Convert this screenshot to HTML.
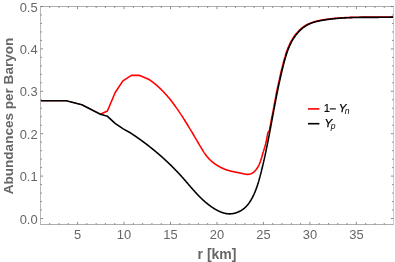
<!DOCTYPE html>
<html><head><meta charset="utf-8"><style>
html,body{margin:0;padding:0;background:#fff;}
svg{display:block;will-change:transform;font-family:"Liberation Sans",sans-serif;}
</style></head><body>
<svg width="395" height="262" viewBox="0 0 395 262">
<rect width="395" height="262" fill="#fff"/>
<path d="M40.5 100.8 L66.30 100.80 L81.90 104.80 L100.40 114.20" fill="none" stroke="#ff0000" stroke-width="1.0" stroke-linejoin="round"/>
<path d="M100.4 114.2 L107.40 111.00 L115.20 92.50 L122.90 80.90 L131.40 75.40 L139.10 75.20 L148.60 79.20 L148.85 79.37 L149.10 79.54 L149.35 79.70 L149.60 79.87 L149.85 80.05 L150.10 80.22 L150.35 80.39 L150.60 80.56 L150.84 80.74 L151.09 80.91 L151.33 81.09 L151.57 81.27 L151.82 81.44 L152.06 81.62 L152.30 81.80 L152.54 81.98 L152.78 82.17 L153.02 82.35 L153.26 82.53 L153.50 82.71 L153.73 82.90 L153.97 83.08 L154.20 83.27 L154.44 83.46 L154.67 83.65 L154.90 83.84 L155.14 84.03 L155.37 84.22 L155.60 84.41 L155.83 84.60 L156.06 84.79 L156.29 84.98 L156.52 85.18 L156.74 85.37 L156.97 85.57 L157.20 85.77 L157.42 85.96 L157.64 86.16 L157.87 86.36 L158.09 86.56 L158.31 86.76 L158.54 86.96 L158.76 87.16 L158.98 87.37 L159.20 87.57 L159.42 87.77 L159.63 87.98 L159.85 88.18 L160.07 88.39 L160.29 88.60 L160.50 88.80 L160.72 89.01 L160.93 89.22 L161.15 89.43 L161.36 89.64 L161.57 89.85 L161.78 90.06 L162.00 90.27 L162.21 90.49 L162.42 90.70 L162.63 90.91 L162.83 91.13 L163.04 91.34 L163.25 91.56 L163.46 91.77 L163.66 91.99 L163.87 92.21 L164.08 92.43 L164.28 92.64 L164.48 92.86 L164.69 93.08 L164.89 93.30 L165.09 93.53 L165.30 93.75 L165.50 93.97 L165.70 94.19 L165.90 94.42 L166.10 94.64 L166.30 94.86 L166.49 95.09 L166.69 95.31 L166.89 95.54 L167.09 95.77 L167.28 95.99 L167.48 96.22 L167.67 96.45 L167.87 96.68 L168.06 96.91 L168.26 97.14 L168.45 97.37 L168.64 97.60 L168.84 97.83 L169.03 98.06 L169.22 98.29 L169.41 98.52 L169.60 98.75 L169.79 98.99 L169.98 99.22 L170.17 99.46 L170.35 99.69 L170.54 99.93 L170.73 100.16 L170.92 100.40 L171.10 100.63 L171.29 100.87 L171.47 101.11 L171.66 101.34 L171.84 101.58 L172.03 101.82 L172.21 102.06 L172.39 102.30 L172.58 102.54 L172.76 102.78 L172.94 103.02 L173.12 103.26 L173.30 103.50 L173.48 103.74 L173.66 103.98 L173.84 104.22 L174.02 104.47 L174.20 104.71 L174.38 104.95 L174.56 105.19 L174.74 105.44 L174.91 105.68 L175.09 105.93 L175.27 106.17 L175.44 106.42 L175.62 106.66 L175.79 106.91 L175.97 107.15 L176.14 107.40 L176.32 107.64 L176.49 107.89 L176.66 108.14 L176.84 108.38 L177.01 108.63 L177.18 108.88 L177.35 109.13 L177.53 109.38 L177.70 109.62 L177.87 109.87 L178.04 110.12 L178.21 110.37 L178.38 110.62 L178.55 110.87 L178.72 111.12 L178.89 111.37 L179.06 111.62 L179.22 111.87 L179.39 112.12 L179.56 112.37 L179.73 112.62 L179.89 112.87 L180.06 113.12 L180.23 113.37 L180.39 113.62 L180.56 113.87 L180.73 114.13 L180.89 114.38 L181.06 114.63 L181.22 114.88 L181.39 115.13 L181.55 115.39 L181.71 115.64 L181.88 115.89 L182.04 116.14 L182.21 116.40 L182.37 116.65 L182.53 116.90 L182.69 117.16 L182.86 117.41 L183.02 117.66 L183.18 117.92 L183.34 118.17 L183.50 118.42 L183.66 118.68 L183.82 118.93 L183.99 119.18 L184.15 119.44 L184.31 119.69 L184.47 119.94 L184.63 120.20 L184.79 120.45 L184.94 120.70 L185.10 120.96 L185.26 121.21 L185.42 121.47 L185.58 121.72 L185.74 121.98 L185.90 122.23 L186.06 122.48 L186.21 122.74 L186.37 122.99 L186.53 123.25 L186.69 123.50 L186.84 123.76 L187.00 124.01 L187.16 124.27 L187.31 124.52 L187.47 124.78 L187.63 125.03 L187.78 125.29 L187.94 125.54 L188.10 125.80 L188.25 126.05 L188.41 126.31 L188.56 126.56 L188.72 126.82 L188.87 127.07 L189.03 127.33 L189.18 127.58 L189.34 127.84 L189.49 128.10 L189.65 128.35 L189.80 128.61 L189.96 128.86 L190.11 129.12 L190.27 129.38 L190.42 129.63 L190.58 129.89 L190.73 130.14 L190.88 130.40 L191.04 130.66 L191.19 130.91 L191.35 131.17 L191.50 131.43 L191.65 131.68 L191.81 131.94 L191.96 132.20 L192.11 132.45 L192.27 132.71 L192.42 132.97 L192.57 133.22 L192.73 133.48 L192.88 133.74 L193.03 134.00 L193.18 134.25 L193.34 134.51 L193.49 134.77 L193.64 135.02 L193.80 135.28 L193.95 135.54 L194.10 135.80 L194.25 136.05 L194.41 136.31 L194.56 136.57 L194.71 136.83 L194.86 137.09 L195.02 137.34 L195.17 137.60 L195.32 137.86 L195.48 138.12 L195.63 138.38 L195.78 138.63 L195.93 138.89 L196.09 139.15 L196.24 139.41 L196.39 139.67 L196.54 139.93 L196.70 140.18 L196.85 140.44 L197.00 140.70 L197.16 140.96 L197.31 141.22 L197.46 141.48 L197.61 141.74 L197.77 142.00 L197.92 142.25 L198.07 142.51 L198.23 142.77 L198.38 143.03 L198.53 143.29 L198.69 143.55 L198.84 143.81 L198.99 144.07 L199.15 144.33 L199.30 144.59 L199.45 144.85 L199.61 145.11 L199.76 145.37 L199.91 145.63 L200.07 145.89 L200.22 146.15 L200.38 146.41 L200.53 146.67 L200.69 146.93 L200.84 147.19 L200.99 147.45 L201.15 147.71 L201.30 147.97 L201.46 148.23 L201.61 148.49 L201.77 148.75 L201.92 149.01 L202.08 149.27 L202.24 149.53 L202.39 149.79 L202.55 150.05 L202.71 150.31 L202.86 150.56 L203.02 150.82 L203.18 151.08 L203.34 151.34 L203.50 151.59 L203.66 151.85 L203.83 152.10 L203.99 152.36 L204.16 152.61 L204.32 152.86 L204.49 153.11 L204.66 153.36 L204.83 153.61 L205.00 153.86 L205.17 154.10 L205.35 154.34 L205.52 154.59 L205.70 154.83 L205.88 155.07 L206.06 155.31 L206.24 155.54 L206.43 155.78 L206.61 156.01 L206.80 156.24 L206.99 156.48 L207.18 156.70 L207.37 156.93 L207.56 157.16 L207.75 157.38 L207.95 157.61 L208.15 157.83 L208.35 158.05 L208.55 158.27 L208.75 158.49 L208.95 158.70 L209.16 158.92 L209.36 159.13 L209.57 159.34 L209.78 159.56 L209.99 159.76 L210.21 159.97 L210.42 160.18 L210.64 160.38 L210.86 160.58 L211.08 160.79 L211.30 160.99 L211.52 161.18 L211.74 161.38 L211.97 161.58 L212.20 161.77 L212.43 161.96 L212.66 162.15 L212.89 162.34 L213.12 162.53 L213.36 162.72 L213.59 162.90 L213.83 163.09 L214.07 163.27 L214.32 163.45 L214.56 163.63 L214.80 163.81 L215.05 163.98 L215.30 164.16 L215.55 164.33 L215.80 164.50 L216.05 164.67 L216.31 164.84 L216.56 165.00 L216.82 165.17 L217.08 165.33 L217.34 165.49 L217.60 165.65 L217.86 165.81 L218.12 165.96 L218.38 166.12 L218.65 166.27 L218.92 166.42 L219.18 166.57 L219.45 166.72 L219.72 166.86 L219.99 167.01 L220.26 167.15 L220.53 167.29 L220.81 167.43 L221.08 167.57 L221.35 167.70 L221.63 167.83 L221.90 167.96 L222.18 168.09 L222.45 168.22 L222.73 168.34 L223.01 168.47 L223.29 168.59 L223.57 168.71 L223.84 168.82 L224.12 168.94 L224.40 169.05 L224.68 169.16 L224.96 169.27 L225.24 169.38 L225.52 169.48 L225.80 169.59 L226.08 169.69 L226.36 169.79 L226.64 169.88 L226.93 169.98 L227.21 170.07 L227.49 170.16 L227.77 170.25 L228.05 170.33 L228.33 170.42 L228.61 170.50 L228.89 170.58 L229.17 170.66 L229.46 170.74 L229.74 170.82 L230.02 170.89 L230.30 170.97 L230.58 171.04 L230.87 171.11 L231.15 171.18 L231.43 171.25 L231.72 171.31 L232.00 171.38 L232.29 171.45 L232.57 171.51 L232.86 171.58 L233.14 171.64 L233.43 171.70 L233.72 171.76 L234.01 171.82 L234.29 171.88 L234.58 171.94 L234.87 172.00 L235.16 172.06 L235.45 172.12 L235.74 172.18 L236.04 172.24 L236.33 172.30 L236.62 172.35 L236.92 172.41 L237.21 172.47 L237.51 172.53 L237.80 172.59 L238.10 172.64 L238.40 172.70 L238.70 172.76 L238.99 172.82 L239.29 172.88 L239.60 172.94 L239.90 173.00 L240.20 173.06 L240.51 173.13 L240.81 173.19 L241.12 173.25 L241.42 173.32 L241.73 173.38 L242.04 173.45 L242.35 173.52 L242.66 173.59 L242.98 173.66 L243.29 173.73 L243.60 173.80 L243.92 173.86 L244.23 173.93 L244.55 174.00 L244.86 174.06 L245.17 174.12 L245.48 174.17 L245.80 174.22 L246.11 174.27 L246.41 174.30 L246.72 174.34 L247.02 174.36 L247.33 174.38 L247.63 174.38 L247.92 174.38 L248.22 174.37 L248.51 174.35 L248.79 174.32 L249.08 174.28 L249.36 174.23 L249.64 174.17 L249.91 174.10 L250.18 174.02 L250.45 173.94 L250.72 173.85 L250.98 173.74 L251.24 173.63 L251.49 173.51 L251.75 173.39 L252.00 173.26 L252.24 173.12 L252.49 172.97 L252.73 172.81 L252.96 172.65 L253.20 172.48 L253.43 172.31 L253.65 172.13 L253.88 171.94 L254.10 171.75 L254.32 171.55 L254.53 171.35 L254.75 171.14 L254.95 170.93 L255.16 170.71 L255.36 170.49 L255.56 170.26 L255.76 170.03 L255.95 169.80 L256.14 169.56 L256.33 169.32 L256.51 169.07 L256.69 168.82 L256.87 168.57 L257.04 168.31 L257.21 168.05 L257.38 167.79 L257.54 167.53 L257.70 167.27 L257.86 167.00 L258.02 166.73 L258.17 166.46 L258.32 166.19 L258.46 165.92 L258.60 165.64 L258.74 165.37 L258.88 165.09 L259.01 164.81 L259.14 164.54 L259.27 164.26 L259.39 163.98 L259.51 163.70 L259.63 163.42 L259.75 163.14 L259.86 162.86 L259.97 162.58 L260.08 162.30 L260.19 162.02 L260.29 161.74 L260.39 161.45 L260.49 161.17 L260.59 160.88 L260.69 160.60 L260.79 160.32 L260.88 160.03 L260.97 159.75 L261.06 159.46 L261.15 159.17 L261.24 158.89 L261.33 158.60 L261.41 158.32 L261.50 158.03 L261.58 157.74 L261.67 157.46 L261.75 157.17 L261.83 156.88 L261.91 156.60 L261.99 156.31 L262.07 156.02 L262.15 155.74 L262.23 155.45 L262.31 155.16 L262.39 154.88 L262.47 154.59 L262.55 154.30 L262.63 154.02 L262.71 153.73 L262.79 153.45 L262.87 153.16 L262.95 152.87 L263.03 152.59 L263.11 152.31 L263.20 152.02 L263.28 151.74 L263.36 151.45 L263.45 151.17 L263.53 150.89 L263.62 150.60 L263.71 150.32 L263.79 150.04 L263.88 149.76 L263.97 149.47 L264.05 149.19 L264.14 148.90 L264.23 148.62 L264.31 148.34 L264.40 148.05 L264.49 147.77 L264.57 147.48 L264.66 147.20 L264.74 146.91 L264.83 146.62 L264.91 146.33 L265.00 146.05 L265.08 145.76 L265.16 145.47 L265.25 145.18 L265.33 144.89 L265.41 144.59 L265.49 144.30 L265.57 144.00 L265.64 143.71 L265.72 143.41 L265.80 143.11 L265.87 142.82 L265.94 142.51 L266.01 142.21 L266.08 141.91 L266.15 141.60 L266.22 141.30 L266.28 140.99 L266.35 140.68 L266.41 140.37 L266.47 140.06 L266.53 139.74 L266.58 139.43 L266.64 139.11 L266.69 138.79 L266.75 138.48 L266.80 138.16 L266.85 137.84 L266.90 137.53 L266.95 137.21 L267.01 136.90 L267.06 136.59 L267.11 136.28 L267.17 135.97 L267.23 135.67 L267.28 135.37 L267.34 135.07 L267.41 134.78 L267.47 134.50 L267.54 134.22 L267.61 133.95 L267.68 133.68 L267.76 133.42 L267.84 133.16 L267.92 132.91 L268.01 132.67 L268.11 132.44 L268.20 132.22 L268.31 132.01 L268.42 131.80 L268.53 131.61 L268.65 131.42 L268.78 131.25 L268.90 131.08 L269.02 130.90 L269.14 130.70 L269.24 130.49 L269.33 130.26 L269.42 130.02 L269.49 129.77 L269.57 129.51 L269.63 129.24 L269.69 128.97 L269.75 128.68 L269.80 128.39 L269.85 128.10 L269.90 127.80 L269.95 127.49 L270.00 127.19 L270.05 126.89 L270.10 126.59 L270.15 126.29 L270.20 125.99 L270.25 125.69 L270.31 125.39 L270.36 125.09 L270.42 124.80 L270.47 124.50 L270.53 124.21 L270.59 123.91 L270.64 123.62 L270.70 123.32 L270.75 123.03 L270.81 122.73 L270.87 122.44 L270.92 122.14 L270.98 121.85 L271.03 121.55 L271.09 121.26 L271.15 120.96 L271.20 120.67 L271.26 120.37 L271.31 120.08 L271.37 119.78 L271.42 119.49 L271.48 119.19 L271.53 118.90 L271.59 118.60 L271.64 118.30 L271.70 118.01 L271.76 117.71 L271.81 117.42 L271.87 117.12 L271.92 116.83 L271.98 116.53 L272.03 116.24 L272.09 115.94 L272.14 115.65 L272.20 115.35 L272.25 115.06 L272.31 114.76 L272.36 114.47 L272.42 114.17 L272.47 113.88 L272.53 113.58 L272.58 113.29 L272.64 112.99 L272.69 112.69 L272.75 112.40 L272.80 112.10 L272.86 111.81 L272.92 111.51 L272.97 111.22 L273.03 110.92 L273.08 110.63 L273.14 110.33 L273.19 110.04 L273.25 109.74 L273.30 109.45 L273.36 109.15 L273.41 108.86 L273.47 108.56 L273.52 108.27 L273.58 107.97 L273.63 107.68 L273.69 107.38 L273.74 107.09 L273.80 106.79 L273.86 106.49 L273.91 106.20 L273.97 105.90 L274.02 105.61 L274.08 105.31 L274.13 105.02 L274.19 104.72 L274.25 104.43 L274.30 104.13 L274.36 103.84 L274.41 103.54 L274.47 103.25 L274.53 102.95 L274.58 102.66 L274.64 102.36 L274.69 102.07 L274.75 101.77 L274.81 101.48 L274.86 101.18 L274.92 100.89 L274.98 100.59 L275.03 100.30 L275.09 100.00 L275.15 99.71 L275.20 99.41 L275.26 99.12 L275.32 98.82 L275.37 98.53 L275.43 98.23 L275.49 97.94 L275.55 97.64 L275.60 97.35 L275.66 97.06 L275.72 96.76 L275.78 96.47 L275.83 96.17 L275.89 95.88 L275.95 95.58 L276.01 95.29 L276.06 94.99 L276.12 94.70 L276.18 94.40 L276.24 94.11 L276.30 93.81 L276.36 93.52 L276.41 93.23 L276.47 92.93 L276.53 92.64 L276.59 92.34 L276.65 92.05 L276.71 91.75 L276.77 91.46 L276.83 91.16 L276.89 90.87 L276.95 90.58 L277.01 90.28 L277.07 89.99 L277.13 89.69 L277.19 89.40 L277.25 89.10 L277.31 88.81 L277.37 88.52 L277.43 88.22 L277.49 87.93 L277.55 87.63 L277.61 87.34 L277.67 87.05 L277.73 86.75 L277.79 86.46 L277.86 86.16 L277.92 85.87 L277.98 85.58 L278.04 85.28 L278.10 84.99 L278.16 84.70 L278.23 84.40 L278.29 84.11 L278.35 83.81 L278.41 83.52 L278.48 83.23 L278.54 82.93 L278.60 82.64 L278.67 82.35 L278.73 82.05 L278.79 81.76 L278.86 81.47 L278.92 81.17 L278.99 80.88 L279.05 80.59 L279.11 80.29 L279.18 80.00 L279.24 79.71 L279.31 79.41 L279.37 79.12 L279.44 78.83 L279.51 78.53 L279.57 78.24 L279.64 77.95 L279.70 77.66 L279.77 77.36 L279.84 77.07 L279.90 76.78 L279.97 76.48 L280.04 76.19 L280.10 75.90 L280.17 75.61 L280.24 75.31 L280.31 75.02 L280.37 74.73 L280.44 74.44 L280.51 74.14 L280.58 73.85 L280.65 73.56 L280.72 73.27 L280.78 72.98 L280.85 72.68 L280.92 72.39 L280.99 72.10 L281.06 71.81 L281.13 71.51 L281.20 71.22 L281.27 70.93 L281.34 70.64 L281.42 70.35 L281.49 70.06 L281.56 69.76 L281.63 69.47 L281.70 69.18 L281.77 68.89 L281.85 68.60 L281.92 68.31 L281.99 68.01 L282.06 67.72 L282.14 67.43 L282.21 67.14 L282.29 66.85 L282.36 66.56 L282.43 66.27 L282.51 65.98 L282.58 65.68 L282.66 65.39 L282.73 65.10 L282.81 64.81 L282.88 64.52 L282.96 64.23 L283.04 63.94 L283.11 63.65 L283.19 63.36 L283.27 63.07 L283.34 62.78 L283.42 62.49 L283.50 62.20 L283.58 61.91 L283.65 61.62 L283.73 61.33 L283.81 61.03 L283.89 60.74 L283.97 60.45 L284.05 60.16 L284.13 59.87 L284.21 59.58 L284.29 59.30 L284.37 59.01 L284.45 58.72 L284.53 58.43 L284.61 58.14 L284.70 57.85 L284.78 57.56 L284.86 57.27 L284.95 56.98 L285.03 56.69 L285.12 56.40 L285.20 56.12 L285.29 55.83 L285.37 55.54 L285.46 55.25 L285.55 54.97 L285.64 54.68 L285.73 54.39 L285.82 54.11 L285.91 53.82 L286.00 53.53 L286.09 53.25 L286.19 52.96 L286.28 52.68 L286.37 52.39 L286.47 52.11 L286.57 51.82 L286.66 51.54 L286.76 51.26 L286.86 50.97 L286.96 50.69 L287.06 50.41 L287.17 50.13 L287.27 49.85 L287.37 49.56 L287.48 49.28 L287.58 49.00 L287.69 48.72 L287.80 48.45 L287.91 48.17 L288.02 47.89 L288.13 47.61 L288.25 47.33 L288.36 47.06 L288.48 46.78 L288.59 46.50 L288.71 46.23 L288.83 45.95 L288.95 45.68 L289.08 45.41 L289.20 45.13 L289.33 44.86 L289.45 44.59 L289.58 44.32 L289.71 44.05 L289.84 43.78 L289.97 43.51 L290.11 43.24 L290.24 42.97 L290.38 42.70 L290.52 42.44 L290.65 42.17 L290.80 41.90 L290.94 41.64 L291.08 41.38 L291.23 41.11 L291.37 40.85 L291.52 40.59 L291.67 40.33 L291.82 40.07 L291.98 39.81 L292.13 39.55 L292.28 39.29 L292.44 39.04 L292.60 38.78 L292.76 38.53 L292.92 38.28 L293.08 38.02 L293.25 37.77 L293.41 37.52 L293.58 37.27 L293.75 37.02 L293.92 36.77 L294.09 36.53 L294.27 36.28 L294.44 36.04 L294.62 35.80 L294.80 35.55 L294.98 35.31 L295.16 35.07 L295.34 34.83 L295.52 34.60 L295.71 34.36 L295.90 34.12 L296.08 33.89 L296.28 33.66 L296.47 33.43 L296.66 33.20 L296.86 32.97 L297.05 32.74 L297.25 32.51 L297.45 32.29 L297.65 32.06 L297.85 31.84 L298.06 31.62 L298.26 31.40 L298.47 31.18 L298.68 30.96 L298.89 30.75 L299.10 30.54 L299.31 30.32 L299.53 30.11 L299.75 29.90 L299.96 29.69 L300.18 29.49 L300.41 29.28 L300.63 29.08 L300.85 28.88 L301.08 28.68 L301.31 28.49 L301.54 28.29 L301.77 28.10 L302.00 27.91 L302.24 27.72 L302.47 27.53 L302.71 27.35 L302.95 27.17 L303.19 26.99 L303.43 26.81 L303.68 26.64 L303.92 26.47 L304.17 26.30 L304.42 26.13 L304.67 25.97 L304.92 25.80 L305.17 25.64 L305.43 25.49 L305.69 25.34 L305.95 25.19 L306.21 25.04 L306.47 24.89 L306.73 24.75 L307.00 24.61 L307.26 24.48 L307.53 24.34 L307.80 24.21 L308.07 24.08 L308.35 23.96 L308.62 23.84 L308.89 23.71 L309.17 23.60 L309.45 23.48 L309.72 23.37 L310.00 23.26 L310.28 23.15 L310.56 23.04 L310.84 22.93 L311.13 22.83 L311.41 22.73 L311.69 22.63 L311.98 22.53 L312.26 22.44 L312.55 22.34 L312.83 22.25 L313.12 22.16 L313.41 22.07 L313.69 21.98 L313.98 21.89 L314.27 21.81 L314.56 21.72 L314.85 21.64 L315.13 21.56 L315.42 21.48 L315.71 21.40 L316.00 21.33 L316.29 21.25 L316.58 21.18 L316.88 21.10 L317.17 21.03 L317.46 20.96 L317.75 20.89 L318.04 20.83 L318.34 20.76 L318.63 20.69 L318.92 20.63 L319.21 20.57 L319.51 20.51 L319.80 20.44 L320.10 20.38 L320.39 20.33 L320.69 20.27 L320.98 20.21 L321.28 20.16 L321.57 20.10 L321.87 20.05 L322.16 20.00 L322.46 19.94 L322.75 19.89 L323.05 19.84 L323.35 19.79 L323.64 19.75 L323.94 19.70 L324.24 19.65 L324.53 19.61 L324.83 19.56 L325.13 19.52 L325.43 19.47 L325.72 19.43 L326.02 19.39 L326.32 19.35 L326.62 19.31 L326.92 19.27 L327.21 19.23 L327.51 19.19 L327.81 19.15 L328.11 19.11 L328.41 19.07 L328.71 19.04 L329.00 19.00 L329.30 18.97 L329.60 18.93 L329.90 18.89 L330.20 18.86 L330.50 18.83 L330.80 18.79 L331.09 18.76 L331.39 18.73 L331.69 18.69 L331.99 18.66 L332.29 18.63 L332.59 18.60 L332.89 18.57 L333.19 18.54 L333.49 18.51 L333.78 18.48 L334.08 18.45 L334.38 18.42 L334.68 18.39 L334.98 18.37 L335.28 18.34 L335.58 18.31 L335.88 18.29 L336.18 18.26 L336.48 18.23 L336.78 18.21 L337.07 18.18 L337.37 18.16 L337.67 18.13 L337.97 18.11 L338.27 18.09 L338.57 18.06 L338.87 18.04 L339.17 18.02 L339.47 18.00 L339.77 17.97 L340.07 17.95 L340.37 17.93 L340.67 17.91 L340.97 17.89 L341.27 17.87 L341.57 17.85 L341.87 17.83 L342.16 17.81 L342.46 17.79 L342.76 17.78 L343.06 17.76 L343.36 17.74 L343.66 17.72 L343.96 17.71 L344.26 17.69 L344.56 17.67 L344.86 17.66 L345.16 17.64 L345.46 17.63 L345.76 17.61 L346.06 17.60 L346.36 17.58 L346.66 17.57 L346.96 17.55 L347.26 17.54 L347.56 17.53 L347.86 17.51 L348.16 17.50 L348.46 17.49 L348.76 17.48 L349.06 17.46 L349.36 17.45 L349.66 17.44 L349.96 17.43 L350.26 17.42 L350.56 17.41 L350.86 17.40 L351.16 17.39 L351.46 17.38 L351.76 17.37 L352.06 17.36 L352.36 17.35 L352.66 17.34 L352.96 17.33 L353.26 17.32 L353.56 17.32 L353.86 17.31 L354.16 17.30 L354.46 17.29 L354.76 17.28 L355.06 17.28 L355.36 17.27 L355.66 17.26 L355.96 17.26 L356.26 17.25 L356.56 17.25 L356.86 17.24 L357.16 17.23 L357.46 17.23 L357.76 17.22 L358.06 17.22 L358.36 17.21 L358.66 17.21 L358.96 17.20 L359.27 17.20 L359.57 17.20 L359.87 17.19 L360.17 17.19 L360.47 17.18 L360.77 17.18 L361.07 17.18 L361.37 17.17 L361.67 17.17 L361.97 17.17 L362.27 17.17 L362.57 17.16 L362.87 17.16 L363.17 17.16 L363.47 17.16 L363.77 17.15 L364.07 17.15 L364.37 17.15 L364.67 17.15 L364.97 17.15 L365.27 17.15 L365.57 17.15 L365.87 17.14 L366.17 17.14 L366.47 17.14 L366.77 17.14 L367.07 17.14 L367.37 17.14 L367.67 17.14 L367.98 17.14 L368.28 17.14 L368.58 17.14 L368.88 17.14 L369.18 17.14 L369.48 17.14 L369.78 17.14 L370.08 17.14 L370.38 17.14 L370.68 17.14 L370.98 17.14 L371.28 17.14 L371.58 17.14 L371.88 17.14 L372.18 17.14 L372.48 17.14 L372.78 17.14 L373.08 17.14 L373.38 17.14 L373.68 17.14 L373.98 17.14 L374.28 17.14 L374.58 17.14 L374.88 17.14 L375.18 17.13 L375.48 17.13 L375.78 17.13 L376.08 17.13 L376.39 17.13 L376.69 17.13 L376.99 17.13 L377.29 17.13 L377.59 17.13 L377.89 17.13 L378.19 17.13 L378.49 17.13 L378.79 17.13 L379.09 17.13 L379.39 17.13 L379.69 17.12 L379.99 17.12 L380.29 17.12 L380.59 17.12 L380.89 17.12 L381.19 17.12 L381.49 17.12 L381.79 17.11 L382.09 17.11 L382.39 17.11 L382.69 17.11 L382.99 17.10 L383.29 17.10 L383.59 17.10 L383.89 17.09 L384.19 17.09 L384.49 17.09 L384.79 17.08 L385.09 17.08 L385.39 17.08 L385.70 17.07 L386.00 17.07 L386.30 17.06 L386.60 17.06 L386.90 17.05 L387.20 17.05 L387.50 17.04 L387.80 17.04 L388.10 17.03 L388.40 17.02 L388.70 17.02 L389.00 17.01 L389.30 17.00 L389.60 17.00 L389.90 16.99 L390.20 16.98 L390.50 16.97 L390.80 16.97 L391.10 16.96 L391.40 16.95 L391.70 16.94 L392.00 16.93 L392.30 16.92 L392.60 16.91 L392.90 16.90" fill="none" stroke="#ff0000" stroke-width="1.6" stroke-linejoin="round"/>
<path d="M40.5 100.8 L66.30 100.80 L81.90 104.80 L100.40 114.20 L107.50 116.30 L115.10 123.30 L123.20 128.90 L131.10 133.30 L131.35 133.47 L131.60 133.63 L131.85 133.80 L132.10 133.97 L132.35 134.14 L132.60 134.30 L132.85 134.47 L133.10 134.64 L133.35 134.81 L133.60 134.98 L133.85 135.15 L134.10 135.31 L134.35 135.48 L134.60 135.65 L134.84 135.82 L135.09 135.99 L135.34 136.16 L135.59 136.34 L135.83 136.51 L136.08 136.68 L136.33 136.85 L136.58 137.02 L136.82 137.19 L137.07 137.36 L137.32 137.54 L137.56 137.71 L137.81 137.88 L138.05 138.06 L138.30 138.23 L138.54 138.40 L138.79 138.58 L139.03 138.75 L139.28 138.92 L139.52 139.10 L139.77 139.27 L140.01 139.45 L140.26 139.62 L140.50 139.80 L140.74 139.98 L140.99 140.15 L141.23 140.33 L141.47 140.50 L141.71 140.68 L141.96 140.86 L142.20 141.03 L142.44 141.21 L142.68 141.39 L142.92 141.57 L143.17 141.75 L143.41 141.92 L143.65 142.10 L143.89 142.28 L144.13 142.46 L144.37 142.64 L144.61 142.82 L144.85 143.00 L145.09 143.18 L145.33 143.36 L145.57 143.54 L145.81 143.72 L146.05 143.90 L146.29 144.09 L146.52 144.27 L146.76 144.45 L147.00 144.63 L147.24 144.81 L147.48 145.00 L147.71 145.18 L147.95 145.36 L148.19 145.55 L148.43 145.73 L148.66 145.91 L148.90 146.10 L149.14 146.28 L149.37 146.47 L149.61 146.65 L149.84 146.84 L150.08 147.02 L150.31 147.21 L150.55 147.39 L150.78 147.58 L151.02 147.77 L151.25 147.95 L151.49 148.14 L151.72 148.33 L151.95 148.52 L152.19 148.70 L152.42 148.89 L152.65 149.08 L152.89 149.27 L153.12 149.46 L153.35 149.65 L153.58 149.84 L153.82 150.03 L154.05 150.22 L154.28 150.41 L154.51 150.60 L154.74 150.79 L154.97 150.98 L155.20 151.17 L155.43 151.36 L155.66 151.55 L155.89 151.74 L156.12 151.94 L156.35 152.13 L156.58 152.32 L156.81 152.51 L157.04 152.71 L157.27 152.90 L157.50 153.09 L157.73 153.29 L157.95 153.48 L158.18 153.68 L158.41 153.87 L158.64 154.07 L158.86 154.26 L159.09 154.46 L159.32 154.65 L159.54 154.85 L159.77 155.05 L160.00 155.24 L160.22 155.44 L160.45 155.64 L160.67 155.83 L160.90 156.03 L161.12 156.23 L161.35 156.43 L161.57 156.63 L161.80 156.82 L162.02 157.02 L162.25 157.22 L162.47 157.42 L162.69 157.62 L162.91 157.82 L163.14 158.02 L163.36 158.22 L163.58 158.42 L163.81 158.62 L164.03 158.83 L164.25 159.03 L164.47 159.23 L164.69 159.43 L164.91 159.63 L165.13 159.84 L165.35 160.04 L165.57 160.24 L165.79 160.45 L166.01 160.65 L166.23 160.86 L166.45 161.06 L166.67 161.26 L166.89 161.47 L167.11 161.67 L167.33 161.88 L167.55 162.09 L167.76 162.29 L167.98 162.50 L168.20 162.70 L168.42 162.91 L168.63 163.12 L168.85 163.33 L169.07 163.53 L169.28 163.74 L169.50 163.95 L169.72 164.16 L169.93 164.37 L170.15 164.58 L170.36 164.78 L170.58 164.99 L170.79 165.20 L171.01 165.41 L171.22 165.62 L171.43 165.83 L171.65 166.05 L171.86 166.26 L172.07 166.47 L172.29 166.68 L172.50 166.89 L172.71 167.10 L172.92 167.32 L173.14 167.53 L173.35 167.74 L173.56 167.96 L173.77 168.17 L173.98 168.38 L174.19 168.60 L174.40 168.81 L174.61 169.03 L174.82 169.24 L175.03 169.46 L175.24 169.67 L175.45 169.89 L175.66 170.11 L175.87 170.32 L176.08 170.54 L176.29 170.76 L176.50 170.97 L176.70 171.19 L176.91 171.41 L177.12 171.63 L177.33 171.85 L177.53 172.06 L177.74 172.28 L177.95 172.50 L178.15 172.72 L178.36 172.94 L178.56 173.16 L178.77 173.38 L178.97 173.60 L179.18 173.83 L179.38 174.05 L179.59 174.27 L179.79 174.49 L180.00 174.71 L180.20 174.93 L180.40 175.16 L180.61 175.38 L180.81 175.60 L181.01 175.83 L181.21 176.05 L181.42 176.28 L181.62 176.50 L181.82 176.72 L182.02 176.95 L182.22 177.17 L182.42 177.40 L182.62 177.63 L182.82 177.85 L183.02 178.08 L183.22 178.31 L183.42 178.53 L183.62 178.76 L183.82 178.99 L184.02 179.21 L184.22 179.44 L184.42 179.67 L184.62 179.90 L184.82 180.13 L185.01 180.35 L185.21 180.58 L185.41 180.81 L185.61 181.04 L185.81 181.27 L186.00 181.50 L186.20 181.73 L186.40 181.95 L186.60 182.18 L186.80 182.41 L186.99 182.64 L187.19 182.87 L187.39 183.10 L187.59 183.33 L187.78 183.56 L187.98 183.79 L188.18 184.02 L188.37 184.25 L188.57 184.48 L188.77 184.71 L188.97 184.93 L189.16 185.16 L189.36 185.39 L189.56 185.62 L189.76 185.85 L189.95 186.08 L190.15 186.31 L190.35 186.54 L190.55 186.77 L190.75 186.99 L190.94 187.22 L191.14 187.45 L191.34 187.68 L191.54 187.91 L191.74 188.13 L191.94 188.36 L192.14 188.59 L192.34 188.82 L192.54 189.04 L192.74 189.27 L192.93 189.49 L193.13 189.72 L193.34 189.95 L193.54 190.17 L193.74 190.40 L193.94 190.62 L194.14 190.85 L194.34 191.07 L194.54 191.30 L194.74 191.52 L194.95 191.74 L195.15 191.97 L195.35 192.19 L195.55 192.41 L195.76 192.63 L195.96 192.85 L196.16 193.07 L196.37 193.30 L196.57 193.52 L196.78 193.74 L196.98 193.96 L197.19 194.17 L197.40 194.39 L197.60 194.61 L197.81 194.83 L198.02 195.05 L198.22 195.26 L198.43 195.48 L198.64 195.69 L198.85 195.91 L199.06 196.12 L199.27 196.34 L199.48 196.55 L199.69 196.77 L199.90 196.98 L200.11 197.19 L200.33 197.40 L200.54 197.61 L200.75 197.82 L200.97 198.03 L201.18 198.24 L201.40 198.45 L201.61 198.66 L201.83 198.86 L202.04 199.07 L202.26 199.27 L202.48 199.48 L202.70 199.68 L202.92 199.89 L203.14 200.09 L203.36 200.29 L203.58 200.49 L203.80 200.69 L204.02 200.89 L204.24 201.09 L204.47 201.29 L204.69 201.49 L204.91 201.69 L205.14 201.88 L205.36 202.08 L205.59 202.27 L205.82 202.47 L206.05 202.66 L206.28 202.85 L206.50 203.04 L206.74 203.23 L206.97 203.42 L207.20 203.61 L207.43 203.80 L207.66 203.98 L207.90 204.17 L208.13 204.35 L208.37 204.54 L208.60 204.72 L208.84 204.90 L209.08 205.08 L209.32 205.26 L209.56 205.44 L209.80 205.62 L210.04 205.80 L210.28 205.97 L210.52 206.15 L210.77 206.32 L211.01 206.49 L211.26 206.67 L211.51 206.84 L211.75 207.01 L212.00 207.18 L212.25 207.34 L212.50 207.51 L212.75 207.67 L213.00 207.84 L213.26 208.00 L213.51 208.16 L213.77 208.33 L214.02 208.48 L214.28 208.64 L214.54 208.80 L214.80 208.96 L215.06 209.11 L215.32 209.27 L215.58 209.42 L215.84 209.57 L216.11 209.72 L216.37 209.87 L216.64 210.01 L216.90 210.16 L217.17 210.30 L217.44 210.44 L217.71 210.58 L217.98 210.71 L218.25 210.85 L218.52 210.98 L218.79 211.11 L219.07 211.24 L219.34 211.37 L219.61 211.49 L219.89 211.61 L220.17 211.73 L220.44 211.85 L220.72 211.96 L221.00 212.07 L221.28 212.18 L221.56 212.29 L221.84 212.39 L222.12 212.49 L222.40 212.58 L222.68 212.68 L222.97 212.77 L223.25 212.86 L223.54 212.94 L223.82 213.02 L224.11 213.10 L224.39 213.17 L224.68 213.24 L224.97 213.31 L225.25 213.38 L225.54 213.44 L225.83 213.49 L226.12 213.54 L226.41 213.59 L226.70 213.64 L226.99 213.68 L227.28 213.71 L227.57 213.75 L227.86 213.77 L228.16 213.80 L228.45 213.82 L228.74 213.83 L229.03 213.84 L229.33 213.85 L229.62 213.85 L229.92 213.85 L230.21 213.84 L230.51 213.83 L230.80 213.82 L231.10 213.80 L231.39 213.77 L231.68 213.74 L231.98 213.71 L232.27 213.67 L232.57 213.63 L232.86 213.58 L233.16 213.53 L233.45 213.48 L233.74 213.42 L234.03 213.36 L234.33 213.29 L234.62 213.22 L234.91 213.15 L235.20 213.07 L235.48 212.99 L235.77 212.90 L236.06 212.81 L236.35 212.72 L236.63 212.62 L236.91 212.52 L237.20 212.42 L237.48 212.31 L237.76 212.20 L238.04 212.08 L238.31 211.96 L238.59 211.84 L238.86 211.71 L239.14 211.58 L239.41 211.45 L239.68 211.31 L239.95 211.17 L240.21 211.03 L240.48 210.88 L240.74 210.74 L241.00 210.58 L241.26 210.43 L241.52 210.27 L241.77 210.11 L242.02 209.94 L242.27 209.77 L242.52 209.60 L242.77 209.43 L243.01 209.25 L243.25 209.07 L243.49 208.89 L243.72 208.70 L243.96 208.51 L244.19 208.32 L244.41 208.13 L244.64 207.93 L244.86 207.73 L245.08 207.53 L245.30 207.32 L245.52 207.12 L245.73 206.91 L245.94 206.69 L246.15 206.48 L246.36 206.26 L246.56 206.04 L246.77 205.82 L246.97 205.60 L247.17 205.37 L247.36 205.15 L247.56 204.92 L247.75 204.69 L247.94 204.45 L248.12 204.22 L248.31 203.98 L248.49 203.74 L248.68 203.50 L248.86 203.26 L249.03 203.01 L249.21 202.77 L249.38 202.52 L249.55 202.27 L249.72 202.02 L249.89 201.77 L250.06 201.51 L250.22 201.26 L250.39 201.00 L250.55 200.74 L250.71 200.48 L250.87 200.22 L251.02 199.96 L251.18 199.70 L251.33 199.44 L251.48 199.17 L251.63 198.91 L251.78 198.64 L251.92 198.37 L252.07 198.10 L252.21 197.84 L252.36 197.57 L252.50 197.30 L252.64 197.02 L252.77 196.75 L252.91 196.48 L253.04 196.21 L253.18 195.93 L253.31 195.66 L253.44 195.38 L253.57 195.11 L253.70 194.83 L253.83 194.56 L253.95 194.28 L254.08 194.01 L254.20 193.73 L254.32 193.45 L254.45 193.17 L254.57 192.90 L254.69 192.62 L254.80 192.34 L254.92 192.06 L255.04 191.78 L255.15 191.50 L255.26 191.22 L255.38 190.94 L255.49 190.66 L255.60 190.38 L255.71 190.10 L255.82 189.81 L255.92 189.53 L256.03 189.25 L256.13 188.97 L256.24 188.68 L256.34 188.40 L256.44 188.12 L256.55 187.83 L256.65 187.55 L256.75 187.26 L256.85 186.98 L256.94 186.69 L257.04 186.41 L257.14 186.12 L257.23 185.84 L257.33 185.55 L257.42 185.27 L257.52 184.98 L257.61 184.69 L257.70 184.41 L257.79 184.12 L257.88 183.83 L257.97 183.54 L258.06 183.26 L258.15 182.97 L258.24 182.68 L258.32 182.39 L258.41 182.10 L258.50 181.81 L258.58 181.53 L258.67 181.24 L258.75 180.95 L258.84 180.66 L258.92 180.37 L259.00 180.08 L259.08 179.79 L259.17 179.50 L259.25 179.21 L259.33 178.92 L259.41 178.63 L259.49 178.34 L259.57 178.05 L259.65 177.76 L259.72 177.47 L259.80 177.18 L259.88 176.89 L259.96 176.60 L260.04 176.31 L260.11 176.02 L260.19 175.72 L260.27 175.43 L260.34 175.14 L260.42 174.85 L260.49 174.56 L260.57 174.27 L260.64 173.98 L260.72 173.69 L260.79 173.40 L260.87 173.10 L260.94 172.81 L261.01 172.52 L261.09 172.23 L261.16 171.94 L261.24 171.65 L261.31 171.36 L261.38 171.07 L261.45 170.77 L261.53 170.48 L261.60 170.19 L261.67 169.90 L261.74 169.61 L261.82 169.32 L261.89 169.03 L261.96 168.73 L262.03 168.44 L262.10 168.15 L262.17 167.86 L262.24 167.57 L262.31 167.28 L262.38 166.98 L262.45 166.69 L262.52 166.40 L262.59 166.11 L262.66 165.82 L262.73 165.53 L262.80 165.23 L262.87 164.94 L262.94 164.65 L263.00 164.36 L263.07 164.07 L263.14 163.78 L263.21 163.48 L263.28 163.19 L263.34 162.90 L263.41 162.61 L263.48 162.32 L263.55 162.02 L263.61 161.73 L263.68 161.44 L263.75 161.15 L263.81 160.86 L263.88 160.56 L263.94 160.27 L264.01 159.98 L264.08 159.69 L264.14 159.39 L264.21 159.10 L264.27 158.81 L264.34 158.52 L264.40 158.23 L264.47 157.93 L264.53 157.64 L264.60 157.35 L264.66 157.06 L264.72 156.76 L264.79 156.47 L264.85 156.18 L264.92 155.89 L264.98 155.59 L265.04 155.30 L265.11 155.01 L265.17 154.72 L265.23 154.42 L265.29 154.13 L265.36 153.84 L265.42 153.55 L265.48 153.25 L265.54 152.96 L265.61 152.67 L265.67 152.38 L265.73 152.08 L265.79 151.79 L265.85 151.50 L265.92 151.21 L265.98 150.91 L266.04 150.62 L266.10 150.33 L266.16 150.03 L266.22 149.74 L266.28 149.45 L266.34 149.16 L266.40 148.86 L266.46 148.57 L266.52 148.28 L266.58 147.98 L266.64 147.69 L266.70 147.40 L266.76 147.11 L266.82 146.81 L266.88 146.52 L266.94 146.23 L267.00 145.93 L267.06 145.64 L267.12 145.35 L267.18 145.05 L267.24 144.76 L267.30 144.47 L267.36 144.17 L267.41 143.88 L267.47 143.59 L267.53 143.30 L267.59 143.00 L267.65 142.71 L267.71 142.42 L267.76 142.12 L267.82 141.83 L267.88 141.54 L267.94 141.24 L268.00 140.95 L268.05 140.66 L268.11 140.36 L268.17 140.07 L268.23 139.78 L268.28 139.48 L268.34 139.19 L268.40 138.90 L268.46 138.60 L268.51 138.31 L268.57 138.01 L268.63 137.72 L268.68 137.43 L268.74 137.13 L268.80 136.84 L268.85 136.55 L268.91 136.25 L268.97 135.96 L269.02 135.67 L269.08 135.37 L269.13 135.08 L269.19 134.79 L269.25 134.49 L269.30 134.20 L269.36 133.90 L269.41 133.61 L269.47 133.32 L269.53 133.02 L269.58 132.73 L269.64 132.44 L269.69 132.14 L269.75 131.85 L269.80 131.55 L269.86 131.26 L269.92 130.97 L269.97 130.67 L270.03 130.38 L270.08 130.09 L270.14 129.79 L270.19 129.50 L270.25 129.20 L270.30 128.91 L270.36 128.62 L270.41 128.32 L270.47 128.03 L270.52 127.73 L270.58 127.44 L270.63 127.15 L270.69 126.85 L270.74 126.56 L270.80 126.26 L270.85 125.97 L270.91 125.68 L270.96 125.38 L271.02 125.09 L271.07 124.79 L271.13 124.50 L271.18 124.21 L271.24 123.91 L271.29 123.62 L271.35 123.32 L271.40 123.03 L271.45 122.73 L271.51 122.44 L271.56 122.15 L271.62 121.85 L271.67 121.56 L271.73 121.26 L271.78 120.97 L271.84 120.67 L271.89 120.38 L271.95 120.09 L272.00 119.79 L272.06 119.50 L272.11 119.20 L272.16 118.91 L272.22 118.61 L272.27 118.32 L272.33 118.03 L272.38 117.73 L272.44 117.44 L272.49 117.14 L272.55 116.85 L272.60 116.55 L272.66 116.26 L272.71 115.97 L272.77 115.67 L272.82 115.38 L272.87 115.08 L272.93 114.79 L272.98 114.49 L273.04 114.20 L273.09 113.90 L273.15 113.61 L273.20 113.31 L273.26 113.02 L273.31 112.73 L273.37 112.43 L273.42 112.14 L273.48 111.84 L273.53 111.55 L273.59 111.25 L273.64 110.96 L273.70 110.66 L273.75 110.37 L273.81 110.07 L273.86 109.78 L273.92 109.49 L273.97 109.19 L274.03 108.90 L274.08 108.60 L274.14 108.31 L274.20 108.01 L274.25 107.72 L274.31 107.42 L274.36 107.13 L274.42 106.83 L274.47 106.54 L274.53 106.24 L274.58 105.95 L274.64 105.65 L274.70 105.36 L274.75 105.06 L274.81 104.77 L274.86 104.47 L274.92 104.18 L274.98 103.89 L275.03 103.59 L275.09 103.30 L275.15 103.00 L275.20 102.71 L275.26 102.41 L275.32 102.12 L275.37 101.82 L275.43 101.53 L275.49 101.23 L275.54 100.94 L275.60 100.64 L275.66 100.35 L275.71 100.05 L275.77 99.76 L275.83 99.46 L275.89 99.17 L275.94 98.87 L276.00 98.58 L276.06 98.28 L276.12 97.99 L276.17 97.69 L276.23 97.40 L276.29 97.10 L276.35 96.81 L276.41 96.51 L276.46 96.22 L276.52 95.92 L276.58 95.63 L276.64 95.33 L276.70 95.04 L276.76 94.74 L276.82 94.45 L276.87 94.15 L276.93 93.86 L276.99 93.56 L277.05 93.27 L277.11 92.97 L277.17 92.68 L277.23 92.38 L277.29 92.09 L277.35 91.79 L277.41 91.50 L277.47 91.20 L277.53 90.91 L277.59 90.61 L277.65 90.32 L277.71 90.02 L277.77 89.73 L277.83 89.43 L277.89 89.14 L277.95 88.84 L278.02 88.55 L278.08 88.25 L278.14 87.96 L278.20 87.66 L278.26 87.37 L278.32 87.07 L278.38 86.78 L278.45 86.48 L278.51 86.19 L278.57 85.89 L278.63 85.60 L278.70 85.30 L278.76 85.01 L278.82 84.71 L278.88 84.42 L278.95 84.12 L279.01 83.83 L279.07 83.53 L279.14 83.24 L279.20 82.94 L279.26 82.64 L279.33 82.35 L279.39 82.05 L279.46 81.76 L279.52 81.46 L279.59 81.17 L279.65 80.87 L279.72 80.58 L279.78 80.28 L279.85 79.99 L279.91 79.69 L279.98 79.40 L280.04 79.10 L280.11 78.81 L280.17 78.51 L280.24 78.22 L280.31 77.92 L280.37 77.63 L280.44 77.33 L280.51 77.04 L280.57 76.74 L280.64 76.45 L280.71 76.15 L280.77 75.86 L280.84 75.56 L280.91 75.27 L280.98 74.97 L281.05 74.68 L281.12 74.38 L281.18 74.08 L281.25 73.79 L281.32 73.49 L281.39 73.20 L281.46 72.90 L281.53 72.61 L281.60 72.31 L281.67 72.02 L281.74 71.72 L281.81 71.43 L281.88 71.13 L281.95 70.84 L282.02 70.54 L282.09 70.25 L282.16 69.95 L282.23 69.66 L282.31 69.36 L282.38 69.07 L282.45 68.77 L282.52 68.48 L282.60 68.18 L282.67 67.89 L282.74 67.59 L282.81 67.30 L282.89 67.00 L282.96 66.70 L283.03 66.41 L283.11 66.11 L283.18 65.82 L283.26 65.52 L283.33 65.23 L283.41 64.93 L283.48 64.64 L283.56 64.34 L283.63 64.05 L283.71 63.75 L283.78 63.46 L283.86 63.16 L283.94 62.87 L284.02 62.57 L284.09 62.28 L284.17 61.99 L284.25 61.69 L284.33 61.40 L284.41 61.10 L284.49 60.81 L284.57 60.52 L284.65 60.22 L284.73 59.93 L284.81 59.64 L284.89 59.34 L284.97 59.05 L285.06 58.76 L285.14 58.47 L285.22 58.17 L285.31 57.88 L285.39 57.59 L285.48 57.30 L285.57 57.01 L285.65 56.72 L285.74 56.43 L285.83 56.14 L285.92 55.85 L286.01 55.56 L286.10 55.27 L286.19 54.98 L286.28 54.69 L286.37 54.41 L286.47 54.12 L286.56 53.83 L286.65 53.54 L286.75 53.26 L286.85 52.97 L286.94 52.69 L287.04 52.40 L287.14 52.12 L287.24 51.83 L287.34 51.55 L287.44 51.27 L287.54 50.98 L287.64 50.70 L287.75 50.42 L287.85 50.14 L287.96 49.86 L288.06 49.58 L288.17 49.30 L288.28 49.02 L288.39 48.74 L288.50 48.46 L288.61 48.19 L288.72 47.91 L288.83 47.63 L288.95 47.36 L289.06 47.08 L289.18 46.81 L289.30 46.54 L289.42 46.26 L289.54 45.99 L289.66 45.72 L289.78 45.45 L289.90 45.18 L290.03 44.91 L290.15 44.64 L290.28 44.37 L290.41 44.10 L290.53 43.84 L290.66 43.57 L290.80 43.31 L290.93 43.04 L291.06 42.78 L291.20 42.52 L291.33 42.25 L291.47 41.99 L291.61 41.73 L291.75 41.47 L291.89 41.21 L292.04 40.96 L292.18 40.70 L292.33 40.44 L292.47 40.19 L292.62 39.93 L292.77 39.68 L292.92 39.43 L293.07 39.18 L293.23 38.93 L293.38 38.68 L293.54 38.43 L293.70 38.18 L293.86 37.93 L294.02 37.69 L294.18 37.44 L294.35 37.20 L294.52 36.95 L294.68 36.71 L294.85 36.47 L295.02 36.23 L295.20 35.99 L295.37 35.75 L295.55 35.52 L295.72 35.28 L295.90 35.05 L296.08 34.81 L296.27 34.58 L296.45 34.35 L296.64 34.12 L296.82 33.89 L297.01 33.66 L297.20 33.43 L297.40 33.21 L297.59 32.98 L297.79 32.76 L297.99 32.54 L298.18 32.32 L298.39 32.10 L298.59 31.88 L298.80 31.66 L299.00 31.44 L299.21 31.23 L299.42 31.02 L299.64 30.80 L299.85 30.59 L300.07 30.38 L300.29 30.17 L300.51 29.97 L300.73 29.76 L300.95 29.56 L301.18 29.36 L301.40 29.16 L301.63 28.96 L301.86 28.76 L302.09 28.57 L302.33 28.37 L302.56 28.18 L302.80 27.99 L303.04 27.80 L303.28 27.62 L303.52 27.44 L303.76 27.26 L304.01 27.08 L304.25 26.90 L304.50 26.73 L304.75 26.55 L305.00 26.38 L305.25 26.22 L305.51 26.05 L305.76 25.89 L306.02 25.73 L306.27 25.57 L306.53 25.42 L306.79 25.26 L307.05 25.12 L307.32 24.97 L307.58 24.83 L307.85 24.68 L308.11 24.55 L308.38 24.41 L308.65 24.28 L308.92 24.15 L309.19 24.02 L309.46 23.90 L309.73 23.78 L310.01 23.66 L310.28 23.54 L310.56 23.43 L310.84 23.31 L311.11 23.20 L311.39 23.10 L311.67 22.99 L311.95 22.89 L312.24 22.79 L312.52 22.69 L312.80 22.59 L313.09 22.50 L313.37 22.41 L313.66 22.32 L313.94 22.23 L314.23 22.14 L314.52 22.06 L314.81 21.98 L315.09 21.89 L315.38 21.81 L315.67 21.74 L315.97 21.66 L316.26 21.59 L316.55 21.51 L316.84 21.44 L317.13 21.37 L317.43 21.30 L317.72 21.24 L318.01 21.17 L318.31 21.10 L318.60 21.04 L318.90 20.98 L319.19 20.92 L319.49 20.86 L319.79 20.80 L320.08 20.74 L320.38 20.68 L320.68 20.62 L320.97 20.57 L321.27 20.51 L321.57 20.46 L321.86 20.40 L322.16 20.35 L322.46 20.30 L322.75 20.25 L323.05 20.20 L323.35 20.15 L323.65 20.10 L323.94 20.05 L324.24 20.00 L324.54 19.95 L324.84 19.90 L325.13 19.86 L325.43 19.81 L325.73 19.76 L326.03 19.72 L326.32 19.67 L326.62 19.63 L326.92 19.59 L327.22 19.54 L327.52 19.50 L327.81 19.46 L328.11 19.42 L328.41 19.38 L328.71 19.34 L329.01 19.30 L329.30 19.26 L329.60 19.22 L329.90 19.18 L330.20 19.14 L330.50 19.11 L330.79 19.07 L331.09 19.03 L331.39 19.00 L331.69 18.96 L331.99 18.93 L332.29 18.90 L332.59 18.86 L332.88 18.83 L333.18 18.80 L333.48 18.77 L333.78 18.73 L334.08 18.70 L334.38 18.67 L334.68 18.64 L334.97 18.61 L335.27 18.58 L335.57 18.55 L335.87 18.53 L336.17 18.50 L336.47 18.47 L336.77 18.44 L337.07 18.42 L337.37 18.39 L337.67 18.37 L337.96 18.34 L338.26 18.32 L338.56 18.29 L338.86 18.27 L339.16 18.24 L339.46 18.22 L339.76 18.20 L340.06 18.18 L340.36 18.15 L340.66 18.13 L340.96 18.11 L341.26 18.09 L341.56 18.07 L341.86 18.05 L342.16 18.03 L342.46 18.01 L342.75 17.99 L343.05 17.97 L343.35 17.96 L343.65 17.94 L343.95 17.92 L344.25 17.90 L344.55 17.89 L344.85 17.87 L345.15 17.85 L345.45 17.84 L345.75 17.82 L346.05 17.81 L346.35 17.79 L346.65 17.78 L346.95 17.77 L347.25 17.75 L347.55 17.74 L347.85 17.73 L348.15 17.71 L348.45 17.70 L348.75 17.69 L349.05 17.68 L349.35 17.66 L349.65 17.65 L349.95 17.64 L350.25 17.63 L350.55 17.62 L350.85 17.61 L351.15 17.60 L351.45 17.59 L351.75 17.58 L352.05 17.57 L352.35 17.56 L352.65 17.55 L352.95 17.55 L353.25 17.54 L353.55 17.53 L353.85 17.52 L354.15 17.51 L354.46 17.51 L354.76 17.50 L355.06 17.49 L355.36 17.49 L355.66 17.48 L355.96 17.47 L356.26 17.47 L356.56 17.46 L356.86 17.46 L357.16 17.45 L357.46 17.45 L357.76 17.44 L358.06 17.44 L358.36 17.43 L358.66 17.43 L358.96 17.42 L359.26 17.42 L359.56 17.41 L359.86 17.41 L360.16 17.41 L360.46 17.40 L360.76 17.40 L361.07 17.40 L361.37 17.39 L361.67 17.39 L361.97 17.39 L362.27 17.38 L362.57 17.38 L362.87 17.38 L363.17 17.38 L363.47 17.37 L363.77 17.37 L364.07 17.37 L364.37 17.37 L364.67 17.37 L364.97 17.36 L365.27 17.36 L365.57 17.36 L365.88 17.36 L366.18 17.36 L366.48 17.36 L366.78 17.36 L367.08 17.35 L367.38 17.35 L367.68 17.35 L367.98 17.35 L368.28 17.35 L368.58 17.35 L368.88 17.35 L369.18 17.35 L369.48 17.35 L369.78 17.35 L370.08 17.35 L370.38 17.35 L370.69 17.35 L370.99 17.34 L371.29 17.34 L371.59 17.34 L371.89 17.34 L372.19 17.34 L372.49 17.34 L372.79 17.34 L373.09 17.34 L373.39 17.34 L373.69 17.34 L373.99 17.34 L374.29 17.34 L374.59 17.34 L374.89 17.34 L375.19 17.34 L375.49 17.34 L375.79 17.34 L376.10 17.34 L376.40 17.33 L376.70 17.33 L377.00 17.33 L377.30 17.33 L377.60 17.33 L377.90 17.33 L378.20 17.33 L378.50 17.33 L378.80 17.33 L379.10 17.32 L379.40 17.32 L379.70 17.32 L380.00 17.32 L380.30 17.32 L380.60 17.32 L380.90 17.32 L381.20 17.31 L381.50 17.31 L381.80 17.31 L382.10 17.31 L382.40 17.30 L382.70 17.30 L383.00 17.30 L383.30 17.30 L383.60 17.29 L383.90 17.29 L384.20 17.29 L384.51 17.28 L384.81 17.28 L385.11 17.28 L385.41 17.27 L385.71 17.27 L386.01 17.27 L386.31 17.26 L386.61 17.26 L386.91 17.25 L387.21 17.25 L387.51 17.24 L387.81 17.24 L388.11 17.23 L388.41 17.23 L388.71 17.22 L389.00 17.21 L389.30 17.21 L389.60 17.20 L389.90 17.20 L390.20 17.19 L390.50 17.18 L390.80 17.17 L391.10 17.17 L391.40 17.16 L391.70 17.15 L392.00 17.14 L392.30 17.14 L392.60 17.13 L392.90 17.12 L393.20 17.11 L393.50 17.10" fill="none" stroke="#000" stroke-width="1.6" stroke-linejoin="round"/>
<path d="M40.1 6.5H393.9M40.1 224.5H393.9" fill="none" stroke="#999" stroke-width="0.8"/>
<path d="M40.5 6.5V224.5" fill="none" stroke="#a6a6a6" stroke-width="0.8"/>
<path d="M393.5 6.5V224.5" fill="none" stroke="#c0c0c0" stroke-width="0.8"/>
<path d="M49.69 224.5v-1.5M49.69 6.5v1.5M58.99 224.5v-1.5M58.99 6.5v1.5M68.28 224.5v-1.5M68.28 6.5v1.5M77.57 224.5v-2.6M77.57 6.5v2.6M86.86 224.5v-1.5M86.86 6.5v1.5M96.16 224.5v-1.5M96.16 6.5v1.5M105.45 224.5v-1.5M105.45 6.5v1.5M114.74 224.5v-1.5M114.74 6.5v1.5M124.04 224.5v-2.6M124.04 6.5v2.6M133.33 224.5v-1.5M133.33 6.5v1.5M142.62 224.5v-1.5M142.62 6.5v1.5M151.92 224.5v-1.5M151.92 6.5v1.5M161.21 224.5v-1.5M161.21 6.5v1.5M170.50 224.5v-2.6M170.50 6.5v2.6M179.79 224.5v-1.5M179.79 6.5v1.5M189.09 224.5v-1.5M189.09 6.5v1.5M198.38 224.5v-1.5M198.38 6.5v1.5M207.67 224.5v-1.5M207.67 6.5v1.5M216.97 224.5v-2.6M216.97 6.5v2.6M226.26 224.5v-1.5M226.26 6.5v1.5M235.55 224.5v-1.5M235.55 6.5v1.5M244.85 224.5v-1.5M244.85 6.5v1.5M254.14 224.5v-1.5M254.14 6.5v1.5M263.43 224.5v-2.6M263.43 6.5v2.6M272.72 224.5v-1.5M272.72 6.5v1.5M282.02 224.5v-1.5M282.02 6.5v1.5M291.31 224.5v-1.5M291.31 6.5v1.5M300.60 224.5v-1.5M300.60 6.5v1.5M309.90 224.5v-2.6M309.90 6.5v2.6M319.19 224.5v-1.5M319.19 6.5v1.5M328.48 224.5v-1.5M328.48 6.5v1.5M337.78 224.5v-1.5M337.78 6.5v1.5M347.07 224.5v-1.5M347.07 6.5v1.5M356.36 224.5v-2.6M356.36 6.5v2.6M365.65 224.5v-1.5M365.65 6.5v1.5M374.95 224.5v-1.5M374.95 6.5v1.5M384.24 224.5v-1.5M384.24 6.5v1.5M40.5 218.50h2.6M393.5 218.50h-2.6M40.5 210.02h1.5M393.5 210.02h-1.5M40.5 201.54h1.5M393.5 201.54h-1.5M40.5 193.06h1.5M393.5 193.06h-1.5M40.5 184.58h1.5M393.5 184.58h-1.5M40.5 176.10h2.6M393.5 176.10h-2.6M40.5 167.62h1.5M393.5 167.62h-1.5M40.5 159.14h1.5M393.5 159.14h-1.5M40.5 150.66h1.5M393.5 150.66h-1.5M40.5 142.18h1.5M393.5 142.18h-1.5M40.5 133.70h2.6M393.5 133.70h-2.6M40.5 125.22h1.5M393.5 125.22h-1.5M40.5 116.74h1.5M393.5 116.74h-1.5M40.5 108.26h1.5M393.5 108.26h-1.5M40.5 99.78h1.5M393.5 99.78h-1.5M40.5 91.30h2.6M393.5 91.30h-2.6M40.5 82.82h1.5M393.5 82.82h-1.5M40.5 74.34h1.5M393.5 74.34h-1.5M40.5 65.86h1.5M393.5 65.86h-1.5M40.5 57.38h1.5M393.5 57.38h-1.5M40.5 48.90h2.6M393.5 48.90h-2.6M40.5 40.42h1.5M393.5 40.42h-1.5M40.5 31.94h1.5M393.5 31.94h-1.5M40.5 23.46h1.5M393.5 23.46h-1.5M40.5 14.98h1.5M393.5 14.98h-1.5M40.5 6.50h2.6M393.5 6.50h-2.6" stroke="#707070" stroke-width="0.8" fill="none"/>
<g font-size="12.9" fill="#666"><text x="77.6" y="239.1" text-anchor="middle">5</text><text x="124.0" y="239.1" text-anchor="middle">10</text><text x="170.5" y="239.1" text-anchor="middle">15</text><text x="217.0" y="239.1" text-anchor="middle">20</text><text x="263.4" y="239.1" text-anchor="middle">25</text><text x="309.9" y="239.1" text-anchor="middle">30</text><text x="356.4" y="239.1" text-anchor="middle">35</text><text x="37.6" y="223.6" text-anchor="end">0.0</text><text x="37.6" y="181.2" text-anchor="end">0.1</text><text x="37.6" y="138.8" text-anchor="end">0.2</text><text x="37.6" y="96.4" text-anchor="end">0.3</text><text x="37.6" y="54.0" text-anchor="end">0.4</text><text x="37.6" y="11.6" text-anchor="end">0.5</text></g>
<text x="217" y="259.0" text-anchor="middle" font-size="14" font-weight="bold" fill="#666">r [km]</text>
<text transform="translate(13.2,116.0) rotate(-90)" text-anchor="middle" font-size="13.55" font-weight="bold" fill="#666">Abundances per Baryon</text>
<path d="M308 108.9h11.4" stroke="#ff0000" stroke-width="1.6"/>
<path d="M308 123.7h11.4" stroke="#000" stroke-width="1.6"/>
<g font-size="11.4" fill="#000" stroke="#000" stroke-width="0.25">
<text x="323.8" y="111.7" stroke-width="0.1">1</text>
<path d="M324.9 111.25h3.7" stroke="#000" stroke-width="0.9"/>
<path d="M329.8 108.9h6.1" stroke="#000" stroke-width="1.1"/>
<text x="338.7" y="111.7" font-style="italic">Y</text>
<text x="344.8" y="113.7" font-style="italic" font-size="8.6" stroke="none">n</text>
<text x="324.6" y="126.6" font-style="italic">Y</text>
<text x="330.7" y="128.6" font-style="italic" font-size="8.6" stroke="none">p</text>
</g>
</svg>
</body></html>
